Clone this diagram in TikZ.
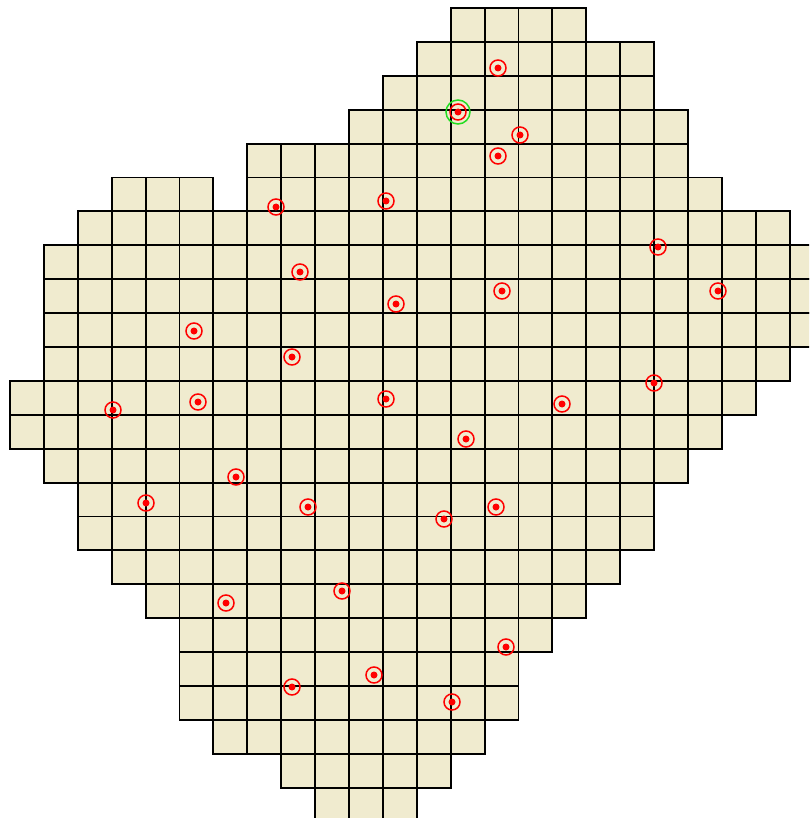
\documentclass[tikz,border=0pt]{standalone}
\usepackage{tikz}
\usetikzlibrary{positioning, calc}
\usepackage{xcolor}
\definecolor{sand}{HTML}{F0EBCF}
\definecolor{pinred}{HTML}{FF0000}
\definecolor{pingreen}{HTML}{22DD22}

\begin{document}
\begin{tikzpicture}[
      x=1pt, y=-1pt,
      cell/.style={draw=black, fill=sand, line width=1.9pt},
      site/.style={circle, draw=pinred, line width=1.5pt, minimum size=16pt,
                   inner sep=0pt,
                   path picture={\fill[pinred] (path picture bounding box.center) circle (3.5pt);}},
      startring/.style={circle, draw=pingreen, line width=1.5pt, minimum size=24pt, inner sep=0pt},
    ]
    \clip (0,0) rectangle (809,818);

    % Grid cells, row by row: row/first column/last column
    \foreach \r/\a/\b in {0/13/16, 1/12/18, 2/11/18, 3/10/19, 4/7/19,
                          5/3/5, 5/7/20, 6/2/22, 7/1/23, 8/1/23, 9/1/23,
                          10/1/22, 11/0/21, 12/0/20, 13/1/19, 14/2/18,
                          15/2/18, 16/3/17, 17/4/16, 18/5/15, 19/5/14,
                          20/5/14, 21/6/13, 22/8/12, 23/9/11}
      \foreach \c in {\a,...,\b}
        \draw[cell] ({10+33.9*\c},{8+33.9*\r}) rectangle ++(33.9,33.9);

    % Sample points
    \foreach \x/\y [count=\i] in {498/68, 458/112, 520/135, 498/156, 276/207,
                                  386/201, 658/247, 300/272, 502/291, 718/291,
                                  396/304, 194/331, 292/357, 654/383, 113/410,
                                  198/402, 386/399, 562/404, 466/439, 236/477,
                                  146/503, 308/507, 444/519, 496/507, 226/603,
                                  342/591, 506/647, 292/687, 374/675, 452/702}
      \node[site] (s\i) at (\x,\y) {};

    % Selected point
    \node[startring] (start) at (s2) {};
  \end{tikzpicture}
\end{document}
